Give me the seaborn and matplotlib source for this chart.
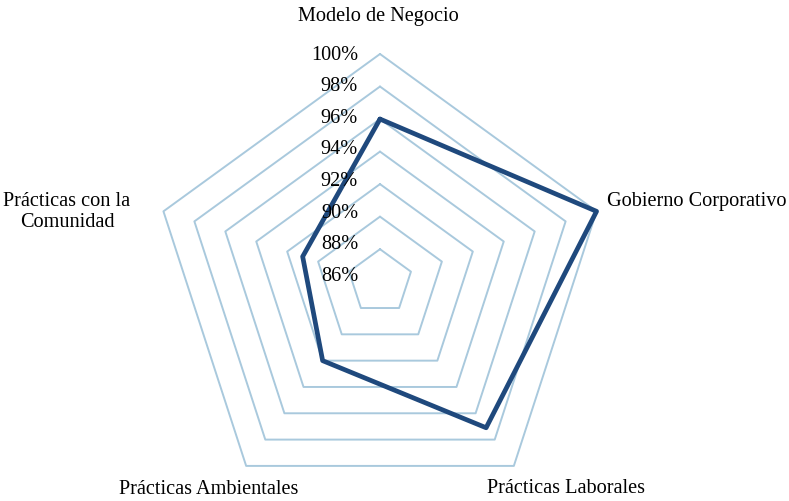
import numpy as np
import matplotlib
matplotlib.use("Agg")
import matplotlib.pyplot as plt
import seaborn as sns

categories = ["Modelo de Negocio", "Gobierno Corporativo", "Prácticas Laborales",
              "Prácticas Ambientales", "Prácticas con la\nComunidad"]
values = [96.0, 100.0, 97.1, 92.0, 91.0]
ring_levels = [88, 90, 92, 94, 96, 98, 100]
tick_labels = ["100%", "98%", "96%", "94%", "92%", "90%", "88%", "86%"]
r_min, r_max = 86, 100

sns.set_theme(style="white")
plt.rcParams['font.family'] = ['Liberation Serif', 'DejaVu Serif']

W, H = 789, 502
fig = plt.figure(figsize=(W / 100, H / 100), dpi=100)
cx, cy, R = 380, 282.7, 227.7
ax = fig.add_axes([(cx - R) / W, (H - cy - R) / H, 2 * R / W, 2 * R / H], projection="polar")
ax.set_theta_offset(np.pi / 2)
ax.set_theta_direction(-1)
ax.set_ylim(r_min, r_max)
ax.grid(False)
ax.set_xticks([])
ax.set_yticks([])
ax.spines['polar'].set_visible(False)
ax.patch.set_alpha(0)

n = len(categories)
theta = np.linspace(0, 2 * np.pi, n, endpoint=False)
theta_c = np.append(theta, theta[0])

grid_color = "#A9C9DD"
for lvl in ring_levels:
    ax.plot(theta_c, [lvl] * (n + 1), color=grid_color, lw=1.4, clip_on=False, zorder=1)

vals_c = values + values[:1]
sns.lineplot(x=theta_c, y=vals_c, ax=ax, sort=False, color="#1F497D", lw=3.4,
             clip_on=False, zorder=3, estimator=None)
ax.set_xlabel("")
ax.set_ylabel("")

fs = 14.6
def ftext(px, py, s, **kw):
    fig.text(px / W, 1 - py / H, s, fontsize=fs, color="black", **kw)

ftext(378, 17, categories[0], ha="center", va="center")
ftext(607, 202, categories[1], ha="left", va="center")
ftext(566, 489, categories[2], ha="center", va="center")
ftext(209, 490, categories[3], ha="center", va="center")
ftext(67, 212, categories[4], ha="center", va="center", linespacing=1.2, multialignment="center")

for i, lab in enumerate(tick_labels):
    ftext(358, 55 + i * 31.6, lab, ha="right", va="center")

fig.savefig("out.png", dpi=100)
